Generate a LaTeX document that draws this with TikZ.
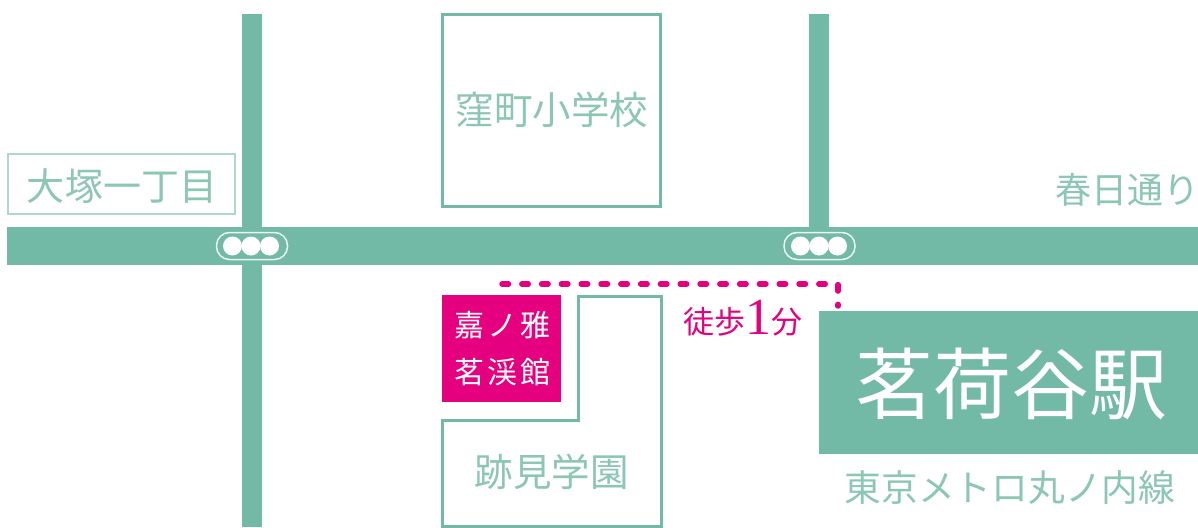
\documentclass[tikz,border=0pt]{standalone}
\usepackage{fontspec}
\setmainfont{Noto Sans CJK JP}
\newfontfamily\numfont{Liberation Serif}
\definecolor{road}{HTML}{72B9A6}
\definecolor{lab}{HTML}{8CC6B4}
\definecolor{pinkb}{HTML}{E4007F}
\tikzset{
  bldg/.style={draw=road,line width=3pt,fill=white},
  lbl/.style={text=lab,inner sep=0pt,anchor=center},
  lamp/.style={circle,fill=white,draw=none,minimum size=19pt,inner sep=0pt},
  capsule/.style={draw=white!85!road,line width=1.5pt,rounded corners=13pt,minimum width=71pt,minimum height=27pt,inner sep=0pt,fill=none},
  walk/.style={draw=pinkb,line width=5.4pt,line cap=round,dash pattern=on 6.5pt off 13.3pt}
}
\begin{document}
\begin{tikzpicture}[x=1pt,y=-1pt]
\useasboundingbox (0,0) rectangle (1198,527);
\fill[white] (0,0) rectangle (1198,527);
% roads
\fill[road] (242,14) rectangle (262,527);
\fill[road] (809,14) rectangle (829,230);
\fill[road] (7,227) rectangle (1198,265);
% school
\node[bldg,minimum width=218pt,minimum height=192pt,inner sep=0pt] (school) at (551.5,110.5) {};
\node[lbl,font=\fontsize{38.5}{38}\selectfont] (schooltxt) at (552,110) {窪町小学校};
% Otsuka label
\node[draw=lab!70,line width=2pt,minimum width=227pt,minimum height=60pt,inner sep=0pt] (otsuka) at (121,183.5) {};
\node[lbl,font=\fontsize{38}{38}\selectfont] (otsukatxt) at (122,186) {大塚一丁目};
% Kasuga
\node[lbl,font=\fontsize{36}{36}\selectfont] (kasuga) at (1127,190) {春日通り};
% signals
\node[capsule] (sigA) at (252,246) {};
\node[lamp] (a1) at (232.5,246) {};
\node[lamp] (a2) at (251,246) {};
\node[lamp] (a3) at (269.5,246) {};
\node[capsule] (sigB) at (819.5,246) {};
\node[lamp] (b1) at (800.5,246) {};
\node[lamp] (b2) at (819,246) {};
\node[lamp] (b3) at (837.5,246) {};
% Atomi
\draw[bldg,line join=miter] (442,526) -- (442,420) -- (578,420) -- (578,296) -- (661,296) -- (661,526) -- cycle;
\node[lbl,font=\fontsize{38.5}{38}\selectfont] (atomi) at (551.5,472) {跡見学園};
% hotel
\node[fill=pinkb,minimum width=119pt,minimum height=107pt,inner sep=0pt] (hotel) at (501.5,348.5) {};
\node[text=white,inner sep=0pt,font=\fontsize{30}{30}\selectfont] (h1) at (502,325) {嘉\hspace{3pt}ノ\hspace{3pt}雅};
\node[text=white,inner sep=0pt,font=\fontsize{30}{30}\selectfont] (h2) at (502,372) {茗\hspace{3pt}渓\hspace{3pt}館};
% station
\node[fill=road,minimum width=379pt,minimum height=143pt,inner sep=0pt] (station) at (1008.5,382.5) {};
\node[text=white,inner sep=0pt,font=\fontsize{78}{78}\selectfont] (stationtxt) at (1011,384) {茗荷谷駅};
\node[lbl,font=\fontsize{36.7}{37}\selectfont] (line) at (1010,488) {東京メトロ丸ノ内線};
% walk
\coordinate (w0) at (502,284);
\coordinate (w1) at (838,284);
\coordinate (w2) at (838,306);
\draw[walk] (w0) -- (w1) -- (w2);
\node[text=pinkb,inner sep=0pt,font=\fontsize{31}{31}\selectfont] (walktxt) at (743,318) {徒歩\raisebox{-1pt}{\numfont\fontsize{52}{52}\selectfont 1}分};
\end{tikzpicture}
\end{document}
